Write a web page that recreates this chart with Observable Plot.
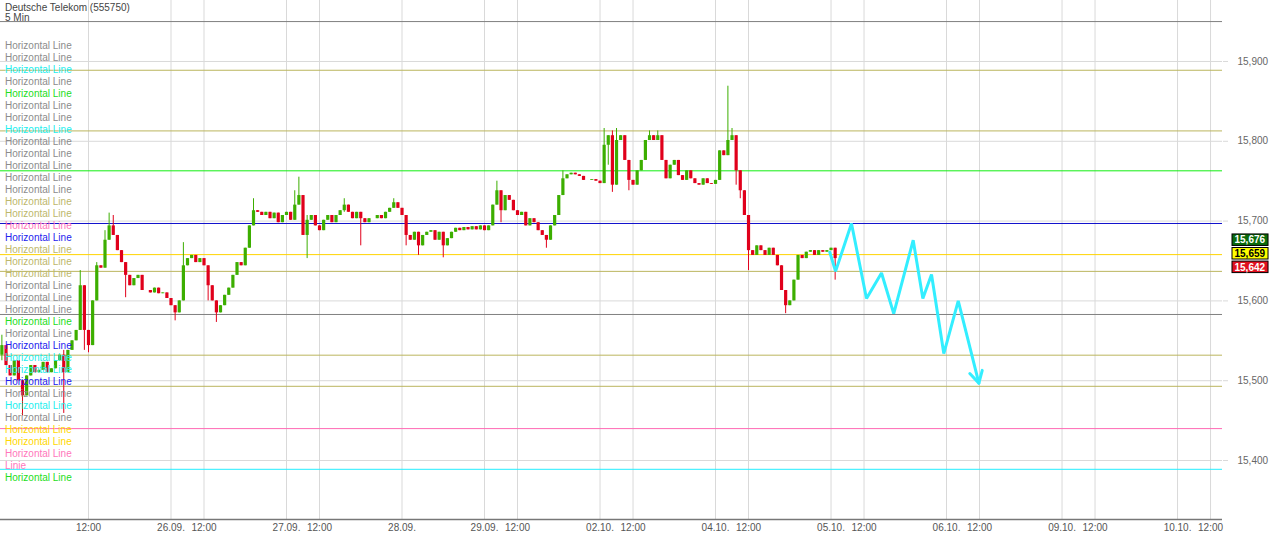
<!DOCTYPE html>
<html><head><meta charset="utf-8">
<script src="https://cdn.jsdelivr.net/npm/d3@7"></script>
<script src="https://cdn.jsdelivr.net/npm/@observablehq/plot@0.6"></script>
<style>
body{margin:0;background:#fff;font-family:Arial,"Liberation Sans",sans-serif}
#wrap{position:relative;width:1271px;height:536px;overflow:hidden}
#title{position:absolute;left:5px;top:3px;font-size:10px;color:#444;line-height:10px}
#legend{position:absolute;left:5px;top:40px;font-size:10px;line-height:12px;white-space:nowrap}
svg{display:block}
</style></head><body><div id="wrap"></div>
<script>
const titleText = "Deutsche Telekom (555750)";
const subtitleText = "5 Min";

const legendLabels = ["Horizontal Line","Horizontal Line","Horizontal Line","Horizontal Line","Horizontal Line","Horizontal Line","Horizontal Line","Horizontal Line","Horizontal Line","Horizontal Line","Horizontal Line","Horizontal Line","Horizontal Line","Horizontal Line","Horizontal Line","Horizontal Line","Horizontal Line","Horizontal Line","Horizontal Line","Horizontal Line","Horizontal Line","Horizontal Line","Horizontal Line","Horizontal Line","Horizontal Line","Horizontal Line","Horizontal Line","Horizontal Line","Horizontal Line","Horizontal Line","Horizontal Line","Horizontal Line","Horizontal Line","Horizontal Line","Horizontal Line","Linie","Horizontal Line"];
const legendColors = ["#8c8c8c","#8c8c8c","#22eeee","#8c8c8c","#22dd22","#8c8c8c","#8c8c8c","#22eeee","#8c8c8c","#8c8c8c","#8c8c8c","#8c8c8c","#8c8c8c","#bdb76b","#bdb76b","#ff77bb","#2222ee","#bdb76b","#bdb76b","#bdb76b","#8c8c8c","#8c8c8c","#8c8c8c","#22dd22","#8c8c8c","#2222ee","#22eeee","#22eeee","#2222ee","#8c8c8c","#22eeee","#8c8c8c","#ffd700","#ffd700","#ff77bb","#ff77bb","#22dd22"];

const lineLevels = [15.950, 15.889, 15.813, 15.763, 15.697, 15.658, 15.637, 15.583, 15.532, 15.493, 15.440, 15.389];
const lineColors = ["#7f7f7f","#bbb55e","#bbb55e","#11ee11","#1111cc","#ffd400","#bbb55e","#808080","#bbb55e","#bbb55e","#ff69b4","#22eeff"];

// candles: half-hour steps in trading hours (25.09. 08:00 = 0)
const startT = -6.5;
const stepT = 0.5;
const firstOpen = 15.532;
const closes = [
15.544,15.519,15.506,15.525,15.500,15.481,15.506,15.519,15.510,15.513,
15.523,15.510,15.515,15.525,15.532,15.510,15.538,15.550,15.563,15.619,
15.563,15.544,15.600,15.644,15.641,15.676,15.694,15.682,15.663,15.648,
15.632,15.619,15.628,15.632,15.613,15.613,15.610,15.616,15.609,15.610,
15.603,15.594,15.585,15.600,15.644,15.653,15.657,15.648,15.653,15.644,
15.619,15.600,15.585,15.594,15.607,15.616,15.632,15.648,15.644,15.666,
15.694,15.713,15.711,15.707,15.711,15.703,15.710,15.698,15.707,15.711,
15.701,15.720,15.732,15.682,15.701,15.707,15.694,15.688,15.701,15.707,
15.698,15.707,15.713,15.720,15.711,15.703,15.711,15.703,15.698,15.703,
15.703,15.707,15.703,15.711,15.716,15.723,15.716,15.707,15.682,15.676,
15.686,15.669,15.682,15.686,15.688,15.676,15.686,15.669,15.678,15.686,
15.691,15.688,15.692,15.689,15.693,15.689,15.694,15.688,15.694,15.720,
15.738,15.713,15.732,15.726,15.713,15.707,15.711,15.694,15.703,15.698,
15.688,15.682,15.676,15.694,15.707,15.732,15.753,15.758,15.760,15.758,
15.756,15.751,15.751,15.752,15.750,15.747,15.795,15.807,15.745,15.801,
15.807,15.776,15.751,15.745,15.763,15.776,15.801,15.807,15.801,15.807,
15.776,15.753,15.770,15.776,15.757,15.751,15.763,15.753,15.747,15.745,
15.753,15.747,15.746,15.751,15.788,15.782,15.801,15.807,15.763,15.738,
15.707,15.663,15.657,15.669,15.663,15.657,15.666,15.657,15.644,15.613,
15.594,15.600,15.626,15.657,15.653,15.661,15.663,15.657,15.663,15.661,
15.663,15.666,15.653];
// [candle index, high, low]
const wicks = [
[0,15.557,15.525],[5,15.500,15.456],[15,15.538,15.459],[19,15.638,15.563],[20,15.619,15.538],
[21,15.563,15.535],[23,15.648,15.600],[25,15.688,15.644],[26,15.710,15.676],[27,15.707,15.682],
[30,15.648,15.604],[42,15.594,15.575],[44,15.673,15.600],[50,15.644,15.600],[52,15.594,15.573],
[61,15.728,15.694],[71,15.738,15.701],[72,15.755,15.720],[74,15.707,15.653],[83,15.728,15.711],
[87,15.711,15.669],[95,15.728,15.716],[98,15.707,15.669],[101,15.682,15.657],[107,15.678,15.654],
[120,15.750,15.720],[121,15.738,15.698],[132,15.682,15.666],[136,15.763,15.732],[146,15.816,15.747],
[147,15.807,15.770],[148,15.813,15.736],[149,15.816,15.745],[152,15.776,15.738],[157,15.813,15.801],
[159,15.813,15.801],[176,15.869,15.788],[177,15.816,15.801],[178,15.807,15.745],[179,15.763,15.728],
[181,15.707,15.638],[190,15.613,15.584],[202,15.666,15.626]];

const forecastT = [93.85, 94.55, 96.48, 98.30, 100.12, 101.60, 103.96, 105.13, 106.18, 107.67, 109.42, 111.92];
const forecastP = [15.661, 15.637, 15.697, 15.603, 15.635, 15.584, 15.676, 15.603, 15.633, 15.534, 15.600, 15.497];
const arrowT = [110.82, 111.92, 112.33];
const arrowP = [15.509, 15.497, 15.513];

const boxValues = [15.676, 15.659, 15.642];
const boxFills = ["#0b6b0b", "#ffff00", "#e0101e"];
const boxTextColors = ["#ffffff", "#000000", "#ffffff"];

const xTicks = [4,14,18,28,32,42,52,56,66,70,80,84,94,98,108,112,122,126,136,140];
const xTickLabels = ["12:00","26.09.","12:00","27.09.","12:00","28.09.","29.09.","12:00","02.10.","12:00","04.10.","12:00","05.10.","12:00","06.10.","12:00","09.10.","12:00","10.10.","12:00"];
const yTicks = [15.4, 15.5, 15.6, 15.7, 15.8, 15.9];

const xDomain = [-6.667, 141.45];
const yDomain = [15.3261, 15.9764];

// build candle table
const wickMap = new Map(wicks.map(w => [w[0], w]));
const candles = closes.map((c, i) => {
  const o = i === 0 ? firstOpen : closes[i - 1];
  const w = wickMap.get(i);
  return {
    t: startT + i * stepT, open: o, close: c,
    high: Math.max(o, c, w ? w[1] : -Infinity),
    low: Math.min(o, c, w ? w[2] : Infinity),
    color: c >= o ? "#3cae00" : "#e0001b"
  };
});
const forecast = forecastT.map((t, i) => ({t, p: forecastP[i]}));
const arrow = arrowT.map((t, i) => ({t, p: arrowP[i]}));
const levels = lineLevels.map((v, i) => ({v, c: lineColors[i]}));
const boxes = boxValues.map((v, i) => ({v, fill: boxFills[i], tc: boxTextColors[i], label: v.toFixed(3).replace(".", ",")}));
const labelMap = new Map(xTicks.map((t, i) => [t, xTickLabels[i]]));

const chart = Plot.plot({
  width: 1271, height: 536,
  marginLeft: 0, marginRight: 49, marginTop: 0, marginBottom: 17,
  x: {domain: xDomain},
  y: {domain: yDomain},
  color: {type: "identity"},
  style: {fontFamily: "Arial, 'Liberation Sans', sans-serif", fontSize: "10px", background: "#fff", overflow: "visible"},
  marks: [
    Plot.ruleX(xTicks, {stroke: "#d9d9d9"}),
    Plot.ruleY(yTicks, {stroke: "#d9d9d9"}),
    Plot.axisY(yTicks, {anchor: "right", tickSize: 5, tickPadding: 10, stroke: "#d9d9d9", fill: "#666", tickFormat: d => d.toFixed(3).replace(".", ","), label: null, fontSize: 10}),
    Plot.axisX(xTicks, {anchor: "bottom", tickSize: 0, tickPadding: 4, fill: "#555", tickFormat: d => labelMap.get(d), label: null, fontSize: 10}),
    Plot.ruleY(levels, {y: "v", stroke: "c", strokeWidth: 1}),
    Plot.ruleX(candles, {x: "t", y1: "low", y2: "high", stroke: "color", strokeWidth: 1}),
    Plot.ruleX(candles, {x: "t", y1: "open", y2: "close", stroke: "color", strokeWidth: 3.2}),
    Plot.line(forecast, {x: "t", y: "p", stroke: "#33eeff", strokeWidth: 3, strokeLinejoin: "miter"}),
    Plot.line(arrow, {x: "t", y: "p", stroke: "#33eeff", strokeWidth: 3}),
    Plot.ruleY([yDomain[0]], {stroke: "#777", strokeWidth: 1.5}),
    Plot.text(boxes, {y: "v", text: "label", frameAnchor: "right", dx: 12, textAnchor: "start", fill: "tc", fontSize: 10, fontWeight: "bold"})
  ]
});

const wrap = document.getElementById("wrap");
wrap.append(chart);
const title = document.createElement("div");
title.id = "title";
title.innerHTML = titleText + "<br>" + subtitleText;
wrap.append(title);
const legend = document.createElement("div");
legend.id = "legend";
legendLabels.forEach((l, i) => {
  const d = document.createElement("div");
  d.textContent = l; d.style.color = legendColors[i];
  legend.append(d);
});
wrap.append(legend);

// background boxes for the price labels
const boxByLabel = new Map(boxes.map(b => [b.label, b]));
chart.querySelectorAll("text").forEach(t => {
  const b = boxByLabel.get(t.textContent);
  if (!b) return;
  const bb = t.getBBox();
  const r = document.createElementNS("http://www.w3.org/2000/svg", "rect");
  r.setAttribute("x", bb.x - 2.5); r.setAttribute("y", bb.y - 0.5);
  r.setAttribute("width", bb.width + 5); r.setAttribute("height", bb.height + 0.5);
  r.setAttribute("fill", b.fill); r.setAttribute("stroke", "#000");
  const tr = t.getAttribute("transform");
  if (tr) r.setAttribute("transform", tr);
  t.parentNode.insertBefore(r, t);
});
</script></body></html>
